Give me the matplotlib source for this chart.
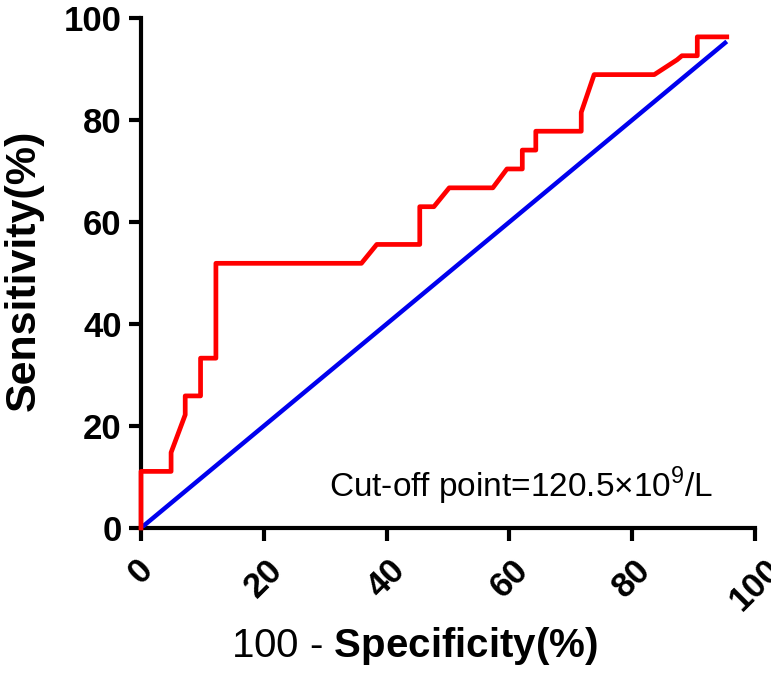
import matplotlib
matplotlib.use("Agg")
import matplotlib.pyplot as plt
from matplotlib.transforms import ScaledTranslation

plt.rcParams['font.family'] = ['Liberation Sans', 'DejaVu Sans']
plt.rcParams['mathtext.fontset'] = 'custom'
plt.rcParams['mathtext.rm'] = 'Liberation Sans'
plt.rcParams['mathtext.bf'] = 'Liberation Sans:bold'

# ROC curve data (100 - specificity, sensitivity), in %
fpr = [0.0, 0.0, 4.9, 4.9, 7.2, 7.2, 9.7, 9.7, 12.2, 12.2, 35.9, 38.4, 45.4, 45.4,
       47.7, 50.2, 57.3, 59.6, 62.1, 62.1, 64.3, 64.3, 71.7, 71.7, 73.8, 83.6,
       87.3, 88.1, 90.6, 90.6, 95.4]
tpr = [0.0, 11.1, 11.1, 14.8, 22.2, 25.9, 25.9, 33.3, 33.3, 51.9, 51.9, 55.6, 55.6, 63.0,
       63.0, 66.7, 66.7, 70.4, 70.4, 74.1, 74.1, 77.8, 77.8, 81.5, 88.9, 88.9,
       91.8, 92.6, 92.6, 96.3, 96.3]
ref_x = [0.0, 95.4]
ref_y = [0.0, 95.4]
xticks = [0, 20, 40, 60, 80, 100]
yticks = [0, 20, 40, 60, 80, 100]

fig = plt.figure(figsize=(7.71, 6.73), dpi=100)
ax = fig.add_axes([141/771, 145/673, 614/771, 510/673])

ax.plot(ref_x, ref_y, color='#0000ee', lw=3.2, solid_capstyle='butt', zorder=3)
ax.plot(fpr, tpr, color='#ff0000', lw=3.4, zorder=4, clip_on=False)

ax.set_xlim(0, 100)
ax.set_ylim(0, 100)
ax.set_xticks(xticks)
ax.set_yticks(yticks)
ax.set_xticklabels([str(v) for v in xticks], rotation=45, ha='center', va='top',
                   fontsize=25, fontweight='bold')
ax.set_yticklabels([str(v) for v in yticks], fontsize=25, fontweight='bold')
off = ScaledTranslation(-8/100, -3/100, fig.dpi_scale_trans)
for lbl in ax.get_xticklabels():
    lbl.set_transform(lbl.get_transform() + off)

for s in ['top', 'right']:
    ax.spines[s].set_visible(False)
for s in ['left', 'bottom']:
    ax.spines[s].set_linewidth(3)
ax.tick_params(axis='both', width=3, length=9, direction='out', pad=5)
ax.tick_params(axis='x', pad=9)

ax.set_ylabel('Sensitivity(%)', fontsize=31, fontweight='bold')
ax.yaxis.set_label_coords(-0.158, 0.506)
ax.set_xlabel(r'100 - $\mathbf{Specificity(\%)}$', fontsize=29)
ax.xaxis.set_label_coords(0.446, -0.19)

ax.text(62.0, 6.1, r'Cut-off point=120.5×10$^{\mathregular{9}}$/L', fontsize=24,
        ha='center', va='baseline')

fig.savefig('out.png', dpi=100)
